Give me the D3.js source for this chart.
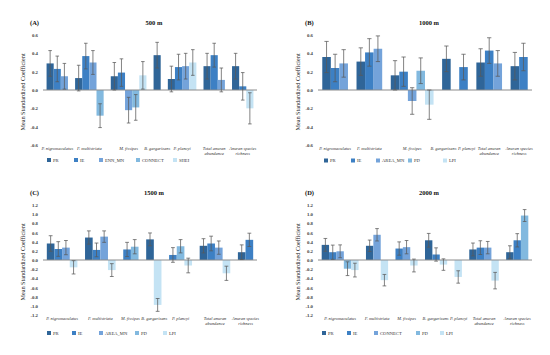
<!DOCTYPE html>
<html>
<head>
<meta charset="utf-8">
<script src="https://cdn.jsdelivr.net/npm/d3@7"></script>
<style>
  html, body { margin: 0; padding: 0; background: #fff; }
  svg { display: block; }
</style>
</head>
<body>
<svg id="chart" width="550" height="355"></svg>
<script>
// ---------------- DATA ----------------
const categoryLines = [
  ["P. nigromaculatus"], ["F. multistriata"], ["M. fissipes"], ["B. gargarizans"],
  ["P. plancyi"], ["Total anuran", "abundance"], ["Anuran species", "richness"]
];
const panelLetters = ["(A)", "(B)", "(C)", "(D)"];
const panelTitles = ["500 m", "1000 m", "1500 m", "2000 m"];

const seriesA = ["PR", "IE", "ENN_MN", "CONNECT", "SHEI"];
const seriesB = ["PR", "IE", "AREA_MN", "PD", "LPI"];
const seriesC = ["PR", "IE", "AREA_MN", "PD", "LPI"];
const seriesD = ["PR", "IE", "CONNECT", "PD", "LPI"];

// rows = series, columns = categories (null = not shown)
const meanA = [
  [0.29, 0.13, 0.15, 0.38, 0.12, 0.26, 0.26],
  [0.23, 0.37, 0.19, null, 0.25, 0.38, 0.04],
  [0.15, 0.30, -0.22, null, 0.26, 0.11, null],
  [null, -0.28, -0.19, null, null, null, null],
  [null, null, 0.16, null, 0.30, null, -0.20]
];
const errA = [
  [0.14, 0.14, 0.15, 0.14, 0.14, 0.14, 0.14],
  [0.14, 0.14, 0.15, null, 0.14, 0.13, 0.15],
  [0.14, 0.13, 0.14, null, 0.14, 0.13, null],
  [null, 0.13, 0.14, null, null, null, null],
  [null, null, 0.15, null, 0.14, null, 0.17]
];
const meanB = [
  [0.36, 0.31, 0.16, 0.34, null, 0.30, 0.26],
  [0.24, 0.41, 0.20, null, 0.25, 0.43, 0.36],
  [0.29, 0.45, -0.12, null, null, 0.29, null],
  [null, null, 0.21, null, null, null, null],
  [null, null, -0.16, null, null, null, null]
];
const errB = [
  [0.17, 0.15, 0.16, 0.14, null, 0.15, 0.15],
  [0.15, 0.15, 0.16, null, 0.14, 0.14, 0.15],
  [0.15, 0.14, 0.145, null, null, 0.14, null],
  [null, null, 0.14, null, null, null, null],
  [null, null, 0.16, null, null, null, null]
];
const meanC = [
  [0.36, 0.49, null, 0.45, null, 0.31, 0.17],
  [0.24, 0.22, 0.23, null, 0.11, 0.36, 0.44],
  [0.27, 0.51, null, null, null, 0.27, null],
  [null, null, 0.29, null, 0.30, null, null],
  [-0.16, -0.22, null, -0.98, -0.12, -0.29, null]
];
const errC = [
  [0.17, 0.145, null, 0.14, null, 0.155, 0.16],
  [0.16, 0.15, 0.155, null, 0.16, 0.16, 0.145],
  [0.155, 0.125, null, null, null, 0.145, null],
  [null, null, 0.155, null, 0.145, null, null],
  [0.145, 0.14, null, 0.14, 0.16, 0.155, null]
];
const meanD = [
  [0.33, 0.31, null, 0.43, null, 0.23, 0.17],
  [0.17, null, 0.25, 0.12, null, 0.27, 0.43],
  [0.19, 0.55, 0.28, null, null, 0.27, null],
  [-0.19, null, null, null, null, null, 0.97],
  [-0.22, -0.44, -0.12, -0.10, -0.37, -0.45, null]
];
const errD = [
  [0.14, 0.125, null, 0.15, null, 0.14, 0.14],
  [0.155, null, 0.145, 0.145, null, 0.15, 0.145],
  [0.14, 0.135, 0.145, null, null, 0.135, null],
  [0.15, null, null, null, null, null, 0.13],
  [0.15, 0.125, 0.14, 0.125, 0.135, 0.18, null]
];

const ticksSmall = [-0.6, -0.4, -0.2, 0.0, 0.2, 0.4, 0.6];
const ticksLarge = [-1.2, -1.0, -0.8, -0.6, -0.4, -0.2, 0.0, 0.2, 0.4, 0.6, 0.8, 1.0, 1.2];

const seriesColors = ["#2f6598", "#3d80c4", "#74a3da", "#82b9df", "#c4e3f4"];

// ---------------- LAYOUT ----------------
const panels = [
  { ox: 0,   oy: 0,   series: seriesA, mean: meanA, err: errA, ticks: ticksSmall, legendY: 160,   legendX: [47, 74, 99, 136, 173] },
  { ox: 275, oy: 0,   series: seriesB, mean: meanB, err: errB, ticks: ticksSmall, legendY: 160.5, legendX: [49, 76, 101, 133, 168] },
  { ox: 0,   oy: 170, series: seriesC, mean: meanC, err: errC, ticks: ticksLarge, legendY: 163,   legendX: [47, 72, 99, 135, 163] },
  { ox: 275, oy: 170, series: seriesD, mean: meanD, err: errD, ticks: ticksLarge, legendY: 163,   legendX: [47, 72, 99, 141, 165] }
];

const serif = "'Liberation Serif','Times New Roman',Times,serif";
const plotLeft = 43, plotRight = 257, plotTop = 35, plotBottom = 145;

const svg = d3.select("#chart");
svg.append("rect").attr("width", 550).attr("height", 355).attr("fill", "#fff");

const fmt = v => { const s = d3.format(".1f")(Math.abs(v)); return (v < -1e-9 ? "-" : "") + s; };

panels.forEach((p, pi) => {
  const g = svg.append("g").attr("transform", `translate(${p.ox},${p.oy})`);

  const groups = categoryLines.map((lines, ci) => {
    const bars = [];
    p.series.forEach((s, si) => {
      const v = p.mean[si][ci];
      if (v !== null && v !== undefined) bars.push({ key: `${ci}|${si}`, ci, si, v, e: p.err[si][ci] });
    });
    return { ci, lines, bars };
  });
  const domain = [];
  groups.forEach((gr, i) => {
    gr.bars.forEach(b => domain.push(b.key));
    if (i < groups.length - 1) domain.push(`gap${i}`);
  });
  const x = d3.scaleBand().domain(domain).range([plotLeft, plotRight])
    .paddingInner(0).paddingOuter(0.5);
  const ext = d3.max(p.ticks);
  const y = d3.scaleLinear().domain([-ext, ext]).range([plotBottom, plotTop]);

  const allBars = groups.flatMap(gr => gr.bars);

  g.append("g").selectAll("rect").data(allBars).join("rect")
    .attr("x", d => x(d.key))
    .attr("width", x.bandwidth())
    .attr("y", d => Math.min(y(d.v), y(0)))
    .attr("height", d => Math.abs(y(d.v) - y(0)))
    .attr("fill", d => seriesColors[d.si]);

  g.append("line")
    .attr("x1", plotLeft).attr("x2", plotRight)
    .attr("y1", y(0)).attr("y2", y(0))
    .attr("stroke", "#8c8c8c").attr("stroke-width", 1);

  const eb = g.append("g").attr("stroke", "#5a5a5a").attr("stroke-width", 0.75).attr("fill", "none");
  const capW = x.bandwidth() * 0.25;
  allBars.forEach(d => {
    const cx = x(d.key) + x.bandwidth() / 2;
    eb.append("line").attr("x1", cx).attr("x2", cx).attr("y1", y(d.v + d.e)).attr("y2", y(d.v - d.e));
    eb.append("line").attr("x1", cx - capW).attr("x2", cx + capW).attr("y1", y(d.v + d.e)).attr("y2", y(d.v + d.e));
    eb.append("line").attr("x1", cx - capW).attr("x2", cx + capW).attr("y1", y(d.v - d.e)).attr("y2", y(d.v - d.e));
  });

  const ax = g.append("g").attr("transform", `translate(${plotLeft - 5},0)`)
    .call(d3.axisLeft(y).tickValues(p.ticks).tickSize(0).tickPadding(0).tickFormat(fmt));
  ax.select(".domain").remove();
  ax.selectAll("text").attr("font-family", serif).attr("font-size", 4.8)
    .attr("font-weight", "bold").attr("fill", "#404040");

  g.append("text")
    .attr("transform", `translate(23.5,${(plotTop + plotBottom) / 2 + 2}) rotate(-90)`)
    .attr("text-anchor", "middle").attr("dominant-baseline", "middle")
    .attr("font-family", serif).attr("font-size", 6.2).attr("fill", "#222")
    .text("Mean Standardized Coefficient");

  g.append("text").attr("x", 30).attr("y", 25)
    .attr("font-family", serif).attr("font-size", 6.5).attr("font-weight", "bold").attr("fill", "#111")
    .text(panelLetters[pi]);
  g.append("text").attr("x", (plotLeft + plotRight) / 2 + 4).attr("y", 25).attr("text-anchor", "middle")
    .attr("font-family", serif).attr("font-size", 6.5).attr("font-weight", "bold").attr("fill", "#111")
    .text(panelTitles[pi]);

  // category labels, with simple collision avoidance between neighbours
  const labels = groups.map(gr => {
    const cx = d3.mean(gr.bars, b => x(b.key) + x.bandwidth() / 2);
    const t = g.append("text").attr("text-anchor", "middle")
      .attr("font-family", serif).attr("font-size", 4.4).attr("font-style", "italic").attr("fill", "#333");
    gr.lines.forEach((ln, li) => {
      t.append("tspan").attr("x", cx).attr("y", plotBottom + 4.5 + li * 5).text(ln);
    });
    const w = d3.max(t.selectAll("tspan").nodes(), n => n.getComputedTextLength());
    return { t, cx, w };
  });
  for (let iter = 0; iter < 10; iter++) {
    for (let i = 0; i < labels.length - 1; i++) {
      const a = labels[i], b = labels[i + 1];
      const overlap = (a.cx + a.w / 2 + 1.5) - (b.cx - b.w / 2);
      if (overlap > 0) { a.cx -= overlap / 2; b.cx += overlap / 2; }
    }
  }
  labels.forEach(l => l.t.selectAll("tspan").attr("x", l.cx));

  const lg = g.append("g");
  p.series.forEach((s, si) => {
    const lx = p.legendX[si];
    lg.append("rect").attr("x", lx).attr("y", p.legendY - 2).attr("width", 4).attr("height", 4)
      .attr("fill", seriesColors[si]);
    lg.append("text").attr("x", lx + 6).attr("y", p.legendY + 1.6)
      .attr("font-family", serif).attr("font-size", 4.6).attr("fill", "#333").text(s);
  });
});
</script>
</body>
</html>
